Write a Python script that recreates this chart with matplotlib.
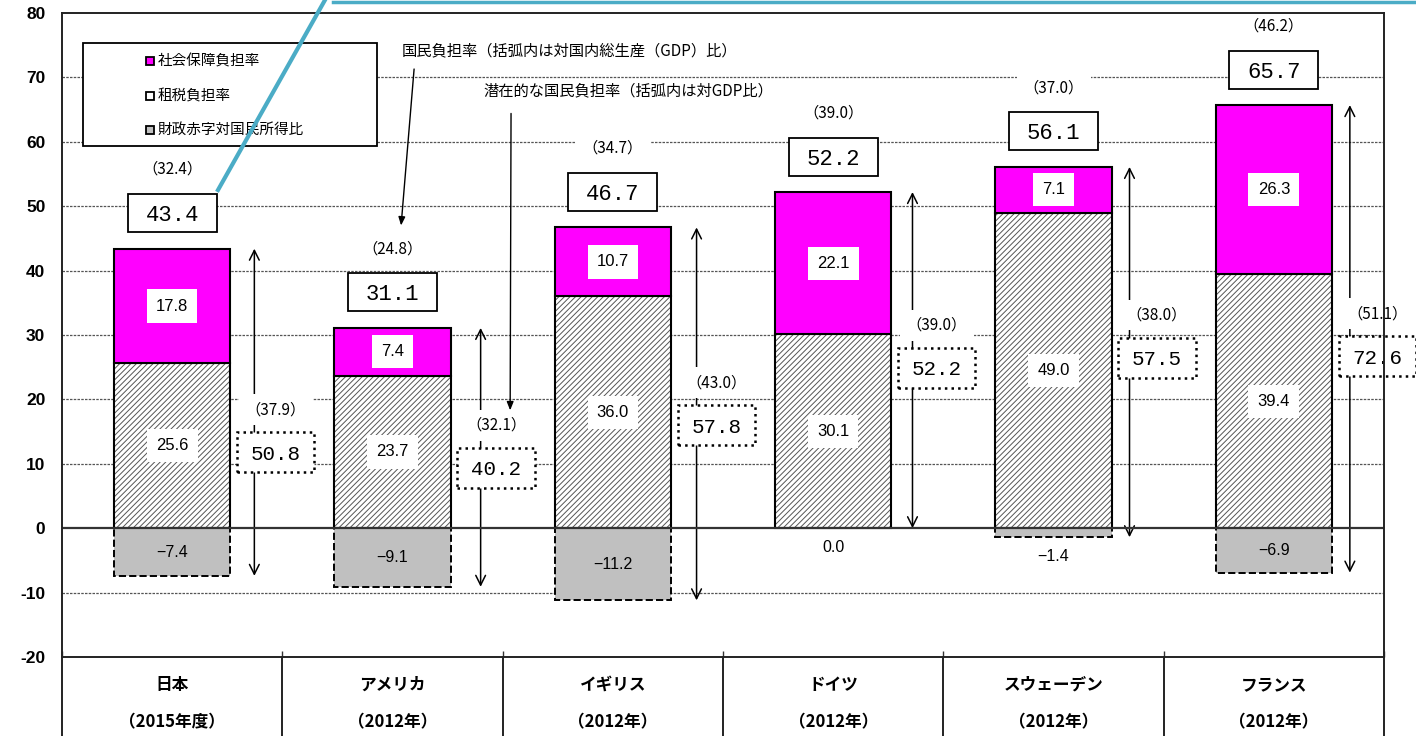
'''
National burden ratio comparison chart (stacked bars with deficit)
'''
import numpy as np
import matplotlib
matplotlib.use('Agg')
import matplotlib.pyplot as plt
from matplotlib.patches import Rectangle
from matplotlib.lines import Line2D

plt.rcParams['font.family'] = ['Noto Sans CJK JP', 'DejaVu Sans']
plt.rcParams['hatch.linewidth'] = 0.7

'''Data read off the picture'''
countries = ['日本', 'アメリカ', 'イギリス', 'ドイツ', 'スウェーデン', 'フランス']
years = ['（2015年度）', '（2012年）', '（2012年）', '（2012年）', '（2012年）', '（2012年）']
tax = [25.6, 23.7, 36.0, 30.1, 49.0, 39.4]          # 租税負担率
social = [17.8, 7.4, 10.7, 22.1, 7.1, 26.3]         # 社会保障負担率
deficit = [-7.4, -9.1, -11.2, 0.0, -1.4, -6.9]      # 財政赤字対国民所得比
burden = [43.4, 31.1, 46.7, 52.2, 56.1, 65.7]       # 国民負担率
burden_gdp = [32.4, 24.8, 34.7, 39.0, 37.0, 46.2]   # (対GDP比)
potential = [50.8, 40.2, 57.8, 52.2, 57.5, 72.6]    # 潜在的な国民負担率
potential_gdp = [37.9, 32.1, 43.0, 39.0, 38.0, 51.1]
legend_labels = ['社会保障負担率', '租税負担率', '財政赤字対国民所得比']
note1 = '国民負担率（括弧内は対国内総生産（GDP）比）'
note2 = '潜在的な国民負担率（括弧内は対GDP比）'
yticks = np.arange(-20, 81, 10)

'''Layout tweaks'''
arrow_dx = [0.373, 0.40, 0.38, 0.36, 0.345, 0.345]  # x offset of the double arrows
pbox_y = [11.8, 9.4, 16.0, 24.9, 26.5, 26.7]        # centre of the dotted boxes
W = 0.527                                           # bar width
MAGENTA = '#ff00ff'
GRAY = '#c0c0c0'
TEAL = '#4bacc6'

x = np.arange(len(countries))
top = np.array(tax) + np.array(social)

fig = plt.figure(figsize=(14.16, 7.36), dpi=100)
ax = fig.add_axes([62/1416, 79/736, 1322/1416, 644/736])
ax.set_xlim(-0.5, 5.5)
ax.set_ylim(-20, 80)

'''Grid lines'''
for y in yticks:
    if y in (-20, 0, 80):
        continue
    ax.axhline(y, color='#555555', lw=0.9, ls=(0, (2, 1)), zorder=0)
ax.axhline(0, color='#333333', lw=1.6, zorder=4)

'''Stacked bars'''
# hatch drawn in grey, outline drawn separately in black
ax.bar(x, tax, W, color='white', edgecolor='#555555', hatch='//////', lw=0, zorder=3)
ax.bar(x, tax, W, fill=False, edgecolor='black', lw=1.5, zorder=3)
ax.bar(x, social, W, bottom=tax, color=MAGENTA, edgecolor='black', lw=1.5, zorder=3)
ax.bar(x, deficit, W, color=GRAY, edgecolor='black', ls='--', lw=1.4, zorder=3)

lab = dict(ha='center', va='center', fontsize=12, family=['Liberation Sans'], zorder=5,
           bbox=dict(boxstyle='square,pad=0.55', fc='white', ec='none'))
paren = dict(ha='center', va='center', fontsize=11, zorder=5,
             bbox=dict(boxstyle='square,pad=0.45', fc='white', ec='none'))

for i in x:
    ax.text(i, tax[i]/2, f'{tax[i]:.1f}', **lab)
    ax.text(i, tax[i] + social[i]/2, f'{social[i]:.1f}', **lab)
    d = deficit[i]
    ax.text(i, d/2 if d < -5 else d - 3, f'{d:.1f}'.replace('-', '\u2212'), ha='center',
            va='center', fontsize=11.5, family=['Liberation Sans'], zorder=5)

    # double arrow spanning deficit .. total
    ax.annotate('', xy=(i + arrow_dx[i], top[i]), xytext=(i + arrow_dx[i], d),
                arrowprops=dict(arrowstyle='<->,head_length=0.7,head_width=0.35', lw=1.1,
                                color='black', shrinkA=0, shrinkB=0), zorder=2)

    # total box (国民負担率)
    cy = top[i] + 5.5
    ax.add_patch(Rectangle((i - 0.202, cy - 2.95), 0.404, 5.9, fc='white', ec='black',
                           lw=1.3, zorder=6))
    ax.text(i, cy, f'{burden[i]:.1f}', ha='center', va='center_baseline', fontsize=16,
            family=['Liberation Mono'], zorder=7)
    ax.text(i, top[i] + 12.3, f'（{burden_gdp[i]:.1f}）', **paren)

    # dotted box (潜在的な国民負担率)
    px = i + 0.47
    ax.add_patch(Rectangle((px - 0.175, pbox_y[i] - 3.1), 0.35, 6.2, fc='white', ec='black',
                           lw=1.8, ls=':', zorder=6, clip_on=False))
    ax.text(px, pbox_y[i], f'{potential[i]:.1f}', ha='center', va='center_baseline',
            fontsize=15, family=['Liberation Mono'], zorder=7, clip_on=False)
    ax.text(px, pbox_y[i] + 6.6, f'（{potential_gdp[i]:.1f}）', **paren)

'''Notes with pointer arrows'''
ax.text(1.043, 74.2, note1, fontsize=11, va='center', zorder=5)
ax.text(1.411, 67.9, note2, fontsize=11, va='center', zorder=5)
ax.annotate('', xy=(1.039, 47.0), xytext=(1.098, 71.3),
            arrowprops=dict(arrowstyle='-|>,head_length=0.5,head_width=0.2', lw=1,
                            color='black', shrinkA=0, shrinkB=0), zorder=5)
ax.annotate('', xy=(1.534, 18.3), xytext=(1.538, 64.4),
            arrowprops=dict(arrowstyle='-|>,head_length=0.5,head_width=0.2', lw=1,
                            color='black', shrinkA=0, shrinkB=0), zorder=5)

'''Legend box'''
ax.add_patch(Rectangle((0.016, 0.793), 0.222, 0.160, transform=ax.transAxes, fc='white',
                       ec='black', lw=1.3, zorder=5))
for lbl, col, yy in zip(legend_labels, [MAGENTA, 'white', GRAY], [0.925, 0.871, 0.818]):
    ax.plot(0.0666, yy, marker='s', ms=6, mfc=col, mec='black', mew=1.3,
            transform=ax.transAxes, zorder=6)
    ax.text(0.0726, yy, lbl, fontsize=10.5, va='center', transform=ax.transAxes, zorder=6)

'''Axes styling'''
ax.set_yticks(yticks)
ax.set_yticklabels([str(v) for v in yticks], fontsize=12.5, fontweight='bold',
                   family=['Liberation Sans'])
ax.tick_params(axis='y', length=0, pad=12)
ax.set_xticks(np.arange(-0.5, 6, 1), minor=True)
ax.set_xticks([])
ax.tick_params(axis='x', which='minor', direction='in', length=4, width=1, color='#333333')
for s in ax.spines.values():
    s.set_linewidth(1.4)
    s.set_color('#222222')
    s.set_zorder(9)

'''Category table under the axes'''
tr = ax.get_xaxis_transform()
for b in np.arange(-0.5, 6, 1):
    ax.plot([b, b], [0, -0.2], color='#222222', lw=1.4, transform=tr, clip_on=False)
for i in x:
    ax.text(i, -0.0435, countries[i], transform=tr, ha='center', va='center',
            fontsize=12, fontweight='bold')
    ax.text(i, -0.101, years[i], transform=tr, ha='center', va='center',
            fontsize=12, fontweight='bold')

'''Teal callout lines laid over the picture'''
fig.add_artist(Line2D([325/1416, 218/1416], [1.0, 1 - 190/736], color=TEAL, lw=3))
fig.add_artist(Line2D([333/1416, 1.0], [1 - 1.5/736, 1 - 1.5/736], color=TEAL, lw=2.5))

plt.savefig('out.png', dpi=100)
